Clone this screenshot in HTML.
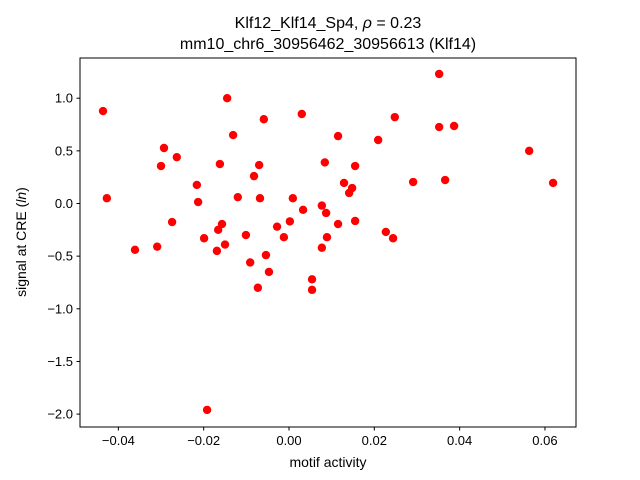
<!DOCTYPE html>
<html><head><meta charset="utf-8"><style>
body{margin:0;background:#fff;}
svg{display:block;font-family:"Liberation Sans","DejaVu Sans",sans-serif;}
</style></head><body>
<svg id="chart" width="640" height="480" viewBox="0 0 640 480" xmlns="http://www.w3.org/2000/svg">
<rect width="640" height="480" fill="#fff"/>
<text x="328" y="28" text-anchor="middle" font-size="16">Klf12_Klf14_Sp4, <tspan font-style="italic">ρ</tspan> = 0.23</text>
<text x="328" y="49" text-anchor="middle" font-size="16">mm10_chr6_30956462_30956613 (Klf14)</text>
<g id="ticks"></g>
<g id="points"></g>
<rect x="80" y="58" width="496" height="369" fill="none" stroke="#000" stroke-width="1"/>
<text x="328" y="467" text-anchor="middle" font-size="14">motif activity</text>
<text transform="translate(26,242) rotate(-90)" text-anchor="middle" font-size="14">signal at CRE (<tspan font-style="italic">ln</tspan>)</text>
</svg>
<script>
const xs=[-0.0436,-0.0427,-0.0361,-0.0309,-0.030,-0.0293,-0.0274,-0.0263,-0.0216,-0.0213,-0.0199,-0.0192,-0.0169,-0.0166,-0.0162,-0.0157,-0.0150,-0.0145,-0.0131,-0.0120,-0.0101,-0.0091,-0.0082,-0.0073,-0.0070,-0.0068,-0.0059,-0.0054,-0.0047,-0.0028,-0.0012,0.0002,0.0009,0.003,0.0033,0.0054,0.0054,0.0077,0.0077,0.0084,0.0087,0.0089,0.0115,0.0115,0.0129,0.0141,0.0148,0.0155,0.0155,0.0209,0.0227,0.0244,0.0248,0.0291,0.0352,0.0352,0.0366,0.0387,0.0563,0.0619];
const ys=[0.878,0.05,-0.44,-0.41,0.356,0.527,-0.176,0.44,0.176,0.014,-0.33,-1.96,-0.45,-0.25,0.375,-0.195,-0.39,1.0,0.65,0.06,-0.30,-0.56,0.26,-0.80,0.365,0.05,0.80,-0.49,-0.65,-0.22,-0.32,-0.17,0.05,0.85,-0.06,-0.72,-0.82,-0.02,-0.42,0.39,-0.09,-0.32,-0.195,0.64,0.195,0.10,0.147,0.356,-0.166,0.603,-0.27,-0.33,0.82,0.204,1.23,0.726,0.223,0.736,0.50,0.195];
const xTicks=[-0.04,-0.02,0.00,0.02,0.04,0.06];
const xTickLabels=["−0.04","−0.02","0.00","0.02","0.04","0.06"];
const yTicks=[1.0,0.5,0.0,-0.5,-1.0,-1.5,-2.0];
const yTickLabels=["1.0","0.5","0.0","−0.5","−1.0","−1.5","−2.0"];
const NS="http://www.w3.org/2000/svg";
function sx(v){return 289+v*4266;}
function sy(v){return 203.5-v*105.3;}
const tg=document.getElementById('ticks');
xTicks.forEach((t,i)=>{
  const l=document.createElementNS(NS,'line');
  l.setAttribute('x1',sx(t));l.setAttribute('x2',sx(t));l.setAttribute('y1',427);l.setAttribute('y2',430.5);l.setAttribute('stroke','#000');
  
  
  tg.appendChild(l);
  const tx=document.createElementNS(NS,'text');
  tx.setAttribute('x',sx(t));tx.setAttribute('y',445);tx.setAttribute('text-anchor','middle');tx.setAttribute('font-size','13');
  tx.textContent=xTickLabels[i];
  
  
  tg.appendChild(tx);
});
yTicks.forEach((t,i)=>{
  const l=document.createElementNS(NS,'line');
  l.setAttribute('x1',76.5);l.setAttribute('x2',80);l.setAttribute('y1',sy(t));l.setAttribute('y2',sy(t));l.setAttribute('stroke','#000');
  
  
  tg.appendChild(l);
  const tx=document.createElementNS(NS,'text');
  tx.setAttribute('x',73);tx.setAttribute('y',sy(t)+4.5);tx.setAttribute('text-anchor','end');tx.setAttribute('font-size','13');
  tx.textContent=yTickLabels[i];
  
  
  tg.appendChild(tx);
});
const pg=document.getElementById('points');
xs.forEach((x,i)=>{
  const c=document.createElementNS(NS,'circle');
  c.setAttribute('cx',sx(x));c.setAttribute('cy',sy(ys[i]));c.setAttribute('r',4.2);c.setAttribute('fill','#ff0000');
  
  
  pg.appendChild(c);
});
</script>
</body></html>
